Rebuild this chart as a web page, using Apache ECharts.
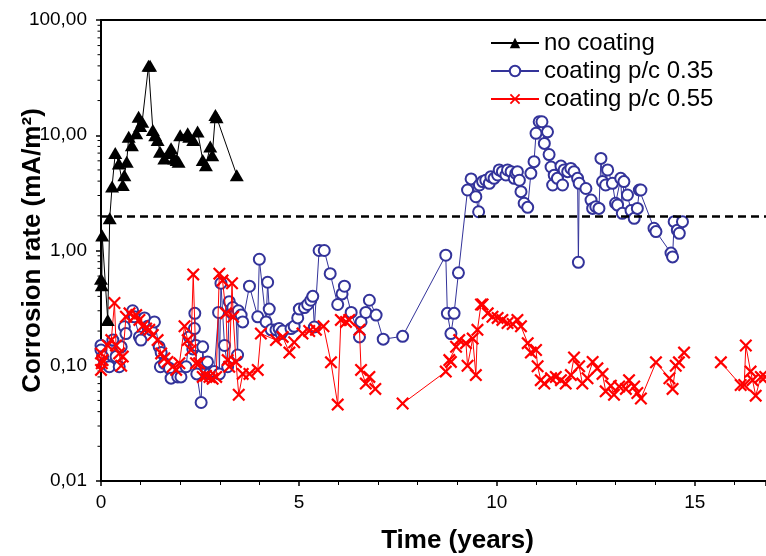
<!DOCTYPE html>
<html>
<head>
<meta charset="utf-8">
<script src="https://cdn.jsdelivr.net/npm/echarts@6/dist/echarts.min.js"></script>
<style>
html, body { margin: 0; padding: 0; background: #fff; }
#chart { width: 766px; height: 556px; }
</style>
</head>
<body>
<div id="chart"></div>
<script>
// [time (years), corrosion rate (mA/m2)]
var noCoating = [
	[0.0, 0.57], [0.02, 0.5], [0.03, 1.35], [0.17, 0.25], [0.22, 1.9], [0.28, 3.6], [0.36, 7.0],
	[0.45, 5.7], [0.55, 3.7], [0.59, 4.5], [0.65, 5.9], [0.7, 9.7], [0.78, 8.2], [0.89, 10.4],
	[0.95, 14.5], [0.99, 12.0], [1.04, 13.1], [1.2, 40], [1.24, 40], [1.31, 11.1], [1.37, 10.0],
	[1.43, 9.1], [1.49, 7.2], [1.6, 6.3], [1.73, 7.0], [1.77, 7.7], [1.85, 6.3], [1.91, 6.1],
	[1.96, 5.9], [2.0, 10.0], [2.19, 10.4], [2.23, 9.7], [2.33, 9.1], [2.44, 10.8], [2.57, 6.1],
	[2.65, 5.5], [2.76, 8.0], [2.81, 6.7], [2.89, 15], [2.92, 14.3], [3.43, 4.5]
];
var coating035 = [
	[0.0, 0.15], [0.0, 0.137], [0.04, 0.12], [0.09, 0.105], [0.21, 0.098], [0.3, 0.167], [0.38, 0.12],
	[0.46, 0.098], [0.51, 0.146], [0.59, 0.218], [0.63, 0.19], [0.8, 0.3], [0.84, 0.266], [0.97, 0.178],
	[1.01, 0.167], [1.1, 0.26], [1.18, 0.22], [1.27, 0.205], [1.35, 0.24], [1.47, 0.146], [1.5, 0.098],
	[1.52, 0.13], [1.6, 0.105], [1.73, 0.095], [1.77, 0.078], [1.94, 0.08], [2.02, 0.08], [2.15, 0.098],
	[2.23, 0.178], [2.32, 0.14], [2.36, 0.21], [2.37, 0.285], [2.4, 0.15], [2.42, 0.085], [2.53, 0.048],
	[2.57, 0.146], [2.6, 0.105], [2.69, 0.108], [2.74, 0.085], [2.86, 0.089], [2.97, 0.29], [2.99, 0.085],
	[3.03, 0.52], [3.12, 0.15], [3.2, 0.098], [3.24, 0.36], [3.29, 0.29], [3.33, 0.32], [3.41, 0.285],
	[3.45, 0.124], [3.47, 0.3], [3.54, 0.275], [3.58, 0.24], [3.75, 0.49], [3.96, 0.266], [4.0, 0.84],
	[4.17, 0.24], [4.21, 0.53], [4.25, 0.31], [4.3, 0.205], [4.42, 0.205], [4.5, 0.21], [4.55, 0.19],
	[4.59, 0.2], [4.8, 0.21], [4.88, 0.22], [4.97, 0.26], [5.01, 0.31], [5.14, 0.32], [5.22, 0.34],
	[5.3, 0.37], [5.35, 0.4], [5.39, 0.217], [5.51, 1.0], [5.64, 1.0], [5.79, 0.63], [5.98, 0.34],
	[6.09, 0.42], [6.15, 0.49], [6.32, 0.29], [6.53, 0.178], [6.57, 0.24], [6.69, 0.29], [6.78, 0.37],
	[6.95, 0.275], [7.13, 0.17], [7.62, 0.18], [8.71, 0.91], [8.75, 0.285], [8.84, 0.19], [8.92, 0.285],
	[9.03, 0.64], [9.26, 3.35], [9.35, 4.18], [9.47, 2.93], [9.54, 2.17], [9.56, 3.7], [9.64, 3.96],
	[9.72, 4.07], [9.81, 3.83], [9.85, 4.37], [9.93, 4.23], [10.02, 4.52], [10.06, 5.0], [10.14, 4.83],
	[10.23, 4.52], [10.27, 5.0], [10.36, 4.83], [10.44, 4.23], [10.48, 4.67], [10.52, 4.83], [10.57, 4.07],
	[10.61, 3.24], [10.69, 2.57], [10.78, 2.37], [10.86, 4.67], [10.94, 5.9], [10.99, 10.4], [11.07, 13.1],
	[11.14, 13.1], [11.2, 8.5], [11.28, 10.7], [11.32, 6.8], [11.37, 5.3], [11.41, 3.7], [11.45, 4.5],
	[11.53, 4.23], [11.62, 5.4], [11.66, 3.7], [11.7, 5.0], [11.79, 4.83], [11.87, 5.15], [11.95, 4.83],
	[12.04, 4.23], [12.06, 0.79], [12.08, 3.83], [12.25, 3.45], [12.38, 2.74], [12.42, 2.32], [12.5, 2.4],
	[12.58, 2.32], [12.63, 6.3], [12.67, 3.96], [12.75, 3.7], [12.8, 5.0], [12.92, 3.83], [13.0, 2.57],
	[13.05, 2.48], [13.13, 4.23], [13.17, 2.1], [13.21, 3.96], [13.3, 3.03], [13.39, 2.22], [13.47, 1.9],
	[13.55, 2.32], [13.6, 3.35], [13.64, 3.35], [13.97, 1.56], [14.02, 1.46], [14.4, 0.95], [14.44, 0.88],
	[14.48, 1.78], [14.56, 1.5], [14.61, 1.41], [14.69, 1.78]
];
var coating055 = [
	[0.0, 0.128], [0.04, 0.112], [0.0, 0.092], [0.02, 0.105], [0.17, 0.15], [0.26, 0.167], [0.34, 0.35],
	[0.38, 0.15], [0.46, 0.128], [0.51, 0.1], [0.55, 0.12], [0.63, 0.266], [0.72, 0.285], [0.84, 0.266],
	[0.89, 0.275], [0.97, 0.25], [1.05, 0.22], [1.14, 0.21], [1.22, 0.205], [1.31, 0.185], [1.43, 0.167],
	[1.52, 0.128], [1.6, 0.116], [1.68, 0.108], [1.81, 0.098], [1.9, 0.092], [1.98, 0.105], [2.11, 0.22],
	[2.19, 0.167], [2.27, 0.137], [2.33, 0.62], [2.4, 0.105], [2.48, 0.105], [2.57, 0.08], [2.65, 0.082],
	[2.74, 0.08], [2.82, 0.077], [2.91, 0.08], [2.99, 0.63], [3.07, 0.55], [3.16, 0.285], [3.2, 0.112],
	[3.24, 0.098], [3.31, 0.52], [3.34, 0.266], [3.41, 0.108], [3.48, 0.056], [3.58, 0.085], [3.75, 0.085],
	[3.96, 0.092], [4.04, 0.19], [4.42, 0.167], [4.59, 0.178], [4.76, 0.13], [4.88, 0.16], [5.09, 0.19],
	[5.26, 0.2], [5.43, 0.205], [5.62, 0.22], [5.81, 0.107], [5.98, 0.046], [6.06, 0.25], [6.19, 0.24],
	[6.27, 0.25], [6.53, 0.205], [6.57, 0.092], [6.69, 0.07], [6.78, 0.08], [6.93, 0.063], [7.3, null],
	[7.62, 0.047], [8.71, 0.089], [8.8, 0.112], [8.84, 0.108], [8.97, 0.146], [9.05, 0.167], [9.22, 0.157],
	[9.26, 0.1], [9.39, 0.172], [9.47, 0.083], [9.51, 0.205], [9.6, 0.34], [9.64, 0.34], [9.77, 0.285],
	[9.89, 0.266], [10.02, 0.26], [10.14, 0.25], [10.27, 0.235], [10.4, 0.23], [10.52, 0.25], [10.61, 0.22],
	[10.78, 0.157], [10.86, 0.13], [10.99, 0.137], [11.03, 0.099], [11.11, 0.075], [11.2, 0.07], [11.37, 0.078],
	[11.49, 0.08], [11.62, 0.075], [11.74, 0.07], [11.87, 0.083], [11.95, 0.118], [12.08, 0.099], [12.16, 0.07],
	[12.29, 0.078], [12.42, 0.108], [12.54, 0.095], [12.67, 0.085], [12.75, 0.06], [12.88, 0.067], [12.96, 0.056],
	[13.09, 0.066], [13.26, 0.063], [13.34, 0.075], [13.47, 0.066], [13.55, 0.058], [13.64, 0.052], [14.02, 0.107],
	[14.36, 0.078], [14.44, 0.063], [14.52, 0.1], [14.6, 0.107], [14.73, 0.13], [15.2, null], [15.66, 0.107],
	[16.16, 0.068], [16.25, 0.068], [16.29, 0.15], [16.41, 0.089], [16.46, 0.075], [16.54, 0.055], [16.67, 0.08],
	[16.78, 0.08]
];
var seriesNames = ['no coating', 'coating p/c 0.35', 'coating p/c 0.55'];
var limitRate = 2;
var xTicks = [0, 5, 10, 15];

var font = '"Liberation Sans", Arial, sans-serif';
var cross = 'path://M0,1.2L1.2,0L5,3.8L8.8,0L10,1.2L6.2,5L10,8.8L8.8,10L5,6.2L1.2,10L0,8.8L3.8,5Z';

var chart = echarts.init(document.getElementById('chart'));
var option = {
	animation: false,
	backgroundColor: '#fff',
	textStyle: { fontFamily: font },
	grid: { left: 101, right: 0, top: 20, bottom: 75, outerBoundsMode: 'none', containLabel: false },
	legend: {
		orient: 'vertical',
		left: 485,
		top: 26,
		itemWidth: 48,
		itemHeight: 13,
		itemGap: 4,
		textStyle: { fontSize: 24, color: '#000', fontFamily: font },
		data: seriesNames
	},
	xAxis: [{
		type: 'value',
		min: 0,
		max: 16.8,
		interval: 5,
		name: 'Time (years)',
		nameLocation: 'middle',
		nameGap: 47,
		nameMoveOverlap: false,
		nameTextStyle: { fontSize: 26, fontWeight: 'bold', color: '#000', padding: [0, 0, 0, 48] },
		axisLine: { lineStyle: { color: '#000', width: 2 } },
		axisTick: { length: 5, lineStyle: { color: '#000', width: 1.5 } },
		minorTick: { show: true, splitNumber: 5, length: 4, lineStyle: { color: '#000', width: 1 } },
		axisLabel: {
			fontSize: 19, color: '#000', margin: 12,
			formatter: function (v) { return xTicks.indexOf(v) >= 0 ? String(v) : ''; }
		},
		splitLine: { show: false }
	}, {
		type: 'value',
		position: 'top',
		min: 0,
		max: 16.8,
		axisLine: { lineStyle: { color: '#000', width: 2 } },
		axisTick: { show: false },
		axisLabel: { show: false },
		splitLine: { show: false }
	}],
	yAxis: {
		type: 'log',
		logBase: 10,
		min: 0.01,
		max: 100,
		name: 'Corrosion rate (mA/m²)',
		nameLocation: 'middle',
		nameGap: 55,
		nameMoveOverlap: false,
		nameTextStyle: { fontSize: 26, fontWeight: 'bold', color: '#000' },
		axisLine: { show: true, lineStyle: { color: '#000', width: 2 } },
		axisTick: { show: true, length: 5, lineStyle: { color: '#000', width: 1.5 } },
		axisLabel: {
			fontSize: 19, color: '#000', margin: 14,
			formatter: function (v) { return v.toFixed(2).replace('.', ','); }
		},
		splitLine: { show: false }
	},
	series: [{
		name: seriesNames[0],
		type: 'line',
		data: noCoating,
		z: 5,
		symbol: 'triangle',
		symbolSize: [14, 12],
		lineStyle: { color: '#000', width: 1 },
		itemStyle: { color: '#000' }
	}, {
		name: seriesNames[1],
		type: 'line',
		data: coating035,
		z: 3,
		symbol: 'emptyCircle',
		symbolSize: 11,
		lineStyle: { color: '#33339a', width: 1 },
		itemStyle: { color: '#33339a', borderColor: '#33339a', borderWidth: 1.5 },
		markLine: {
			silent: true,
			symbol: 'none',
			label: { show: false },
			lineStyle: { color: '#000', width: 2.5, type: [8, 5] },
			data: [{ yAxis: limitRate }]
		}
	}, {
		name: seriesNames[2],
		type: 'line',
		data: coating055,
		z: 4,
		symbol: cross,
		symbolSize: 13,
		lineStyle: { color: '#ff0000', width: 1 },
		itemStyle: { color: '#ff0000' }
	}]
};
chart.setOption(option);

// log minor ticks (2..9 of each decade) on the y axis
var ticks = [];
var x0 = chart.convertToPixel({ xAxisIndex: 0 }, 0);
for (var d = 0.01; d < 100; d *= 10) {
	for (var m = 2; m <= 9; m++) {
		var y = chart.convertToPixel({ yAxisIndex: 0 }, m * d);
		ticks.push({
			type: 'line',
			shape: { x1: x0 - 3.5, y1: y, x2: x0, y2: y },
			style: { stroke: '#000', lineWidth: 1 }
		});
	}
}
chart.setOption({ graphic: ticks });
</script>
</body>
</html>
